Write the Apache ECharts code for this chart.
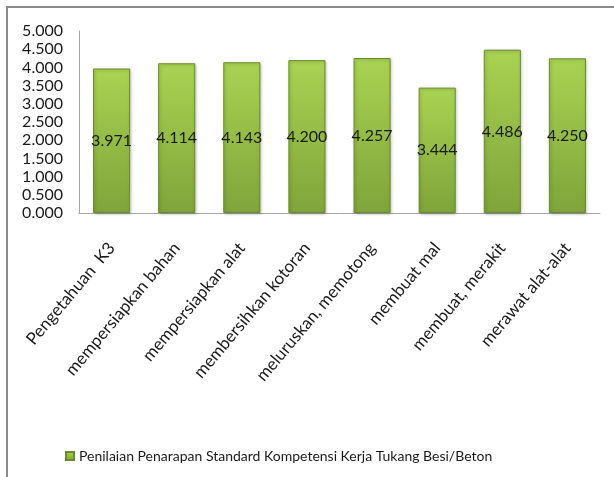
<!DOCTYPE html>
<html>
<head>
<meta charset="utf-8">
<script src="https://cdn.jsdelivr.net/npm/echarts@6/dist/echarts.min.js"></script>
<style>
  html, body { margin: 0; padding: 0; background: #fff; }
  #frame {
    position: absolute; left: 6px; top: 6px; width: 620px; height: 480px;
    border-top: 2px solid #8c8c8c; border-left: 2px solid #8c8c8c;
  }
  #chart { position: absolute; left: 0; top: 0; width: 614px; height: 477px; }
</style>
</head>
<body>
<div id="frame"></div>
<div id="chart"></div>
<script>
const categories = [
  'Pengetahuan  K3', 'mempersiapkan bahan', 'mempersiapkan alat', 'membersihkan kotoran',
  'meluruskan, memotong', 'membuat mal', 'membuat, merakit', 'merawat alat-alat'
]
const values = [3.971, 4.114, 4.143, 4.200, 4.257, 3.444, 4.486, 4.250]
const seriesName = 'Penilaian Penarapan Standard Kompetensi Kerja Tukang Besi/Beton'

const font = 'Lato, "Open Sans", sans-serif'

const chart = echarts.init(document.getElementById('chart'))

// verlauf hell oben -> dunkler unten
const barColor = new echarts.graphic.LinearGradient(0, 0, 0, 1, [
  { offset: 0, color: '#a9d352' },
  { offset: 1, color: '#7fa43a' }
])

const option = {
  animation: false,
  grid: { left: 79, right: 14, top: 31, bottom: 264, containLabel: false },
  legend: {
    top: 444,
    left: 60,
    itemWidth: 8,
    itemHeight: 8,
    itemGap: 4,
    textStyle: { fontFamily: font, fontSize: 14, color: '#1a1a1a' },
    data: [{ name: seriesName, icon: 'rect' }]
  },
  xAxis: {
    type: 'category',
    data: categories,
    axisLine: { lineStyle: { color: '#a6a6a6', width: 1 } },
    axisTick: { show: false },
    axisLabel: {
      rotate: 50,
      interval: 0,
      margin: 32,
      fontFamily: font,
      fontSize: 17,
      color: '#1a1a1a'
    }
  },
  yAxis: {
    type: 'value',
    min: 0,
    max: 5,
    interval: 0.5,
    axisLine: { show: true, lineStyle: { color: '#a6a6a6', width: 1 } },
    axisTick: { show: false },
    splitLine: { show: false },
    axisLabel: {
      margin: 16,
      fontFamily: font,
      fontSize: 16,
      color: '#1a1a1a',
      formatter: v => v.toFixed(3)
    }
  },
  series: [{
    name: seriesName,
    type: 'bar',
    data: values,
    barWidth: '57%',
    itemStyle: {
      color: barColor,
      borderColor: '#6b8c2c',
      borderWidth: 1,
      shadowColor: 'rgba(0,0,0,0.25)',
      shadowBlur: 3,
      shadowOffsetX: 1,
      shadowOffsetY: 1
    },
    label: {
      show: true,
      position: 'inside',
      fontFamily: font,
      fontSize: 16,
      color: '#1a1a1a',
      formatter: p => p.value.toFixed(3)
    }
  }]
}

chart.setOption(option)
</script>
</body>
</html>
